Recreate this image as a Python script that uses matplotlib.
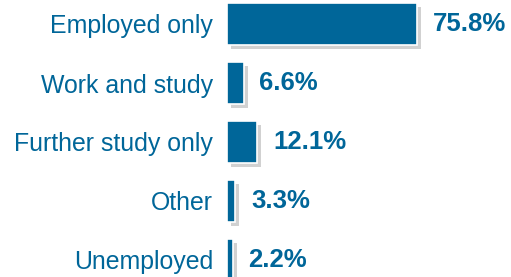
import matplotlib
matplotlib.use("Agg")
import matplotlib.pyplot as plt
import matplotlib.patheffects as pe

categories = ["Employed only", "Work and study", "Further study only", "Other", "Unemployed"]
values = [75.8, 6.6, 12.1, 3.3, 2.2]
value_labels = ["75.8%", "6.6%", "12.1%", "3.3%", "2.2%"]

plt.rcParams['font.family'] = ['Liberation Sans', 'DejaVu Sans']
BLUE = "#006699"

W, H = 511, 277
fig = plt.figure(figsize=(W/100, H/100), dpi=100)
left_px = 227
ax = fig.add_axes([left_px/W, 0, 1 - left_px/W, 1])
ppu = 2.5  # pixels per percent
ax.set_xlim(0, (W - left_px)/ppu)
row = 59.0
top = 24.0
ax.set_ylim((H - top)/row, -top/row)

ys = list(range(len(categories)))
bars = ax.barh(ys, values, height=0.72, color=BLUE, edgecolor="white", linewidth=1.2,
               path_effects=[pe.SimplePatchShadow(offset=(3, -3), shadow_rgbFace="#999999", alpha=0.45), pe.Normal()])

for y, v, lab in zip(ys, values, value_labels):
    ax.annotate(lab, (v, y), xytext=(11.5, 0), textcoords="offset points",
                ha="left", va="center", fontsize=18.5, fontweight="bold", color=BLUE)

ax.set_yticks(ys)
ax.set_yticklabels(categories, fontsize=17.9, color=BLUE)
ax.tick_params(axis="y", length=0, pad=10)
ax.tick_params(axis="x", bottom=False, labelbottom=False)
for s in ax.spines.values():
    s.set_visible(False)
ax.patch.set_alpha(0)

fig.savefig("out.png", dpi=100)
